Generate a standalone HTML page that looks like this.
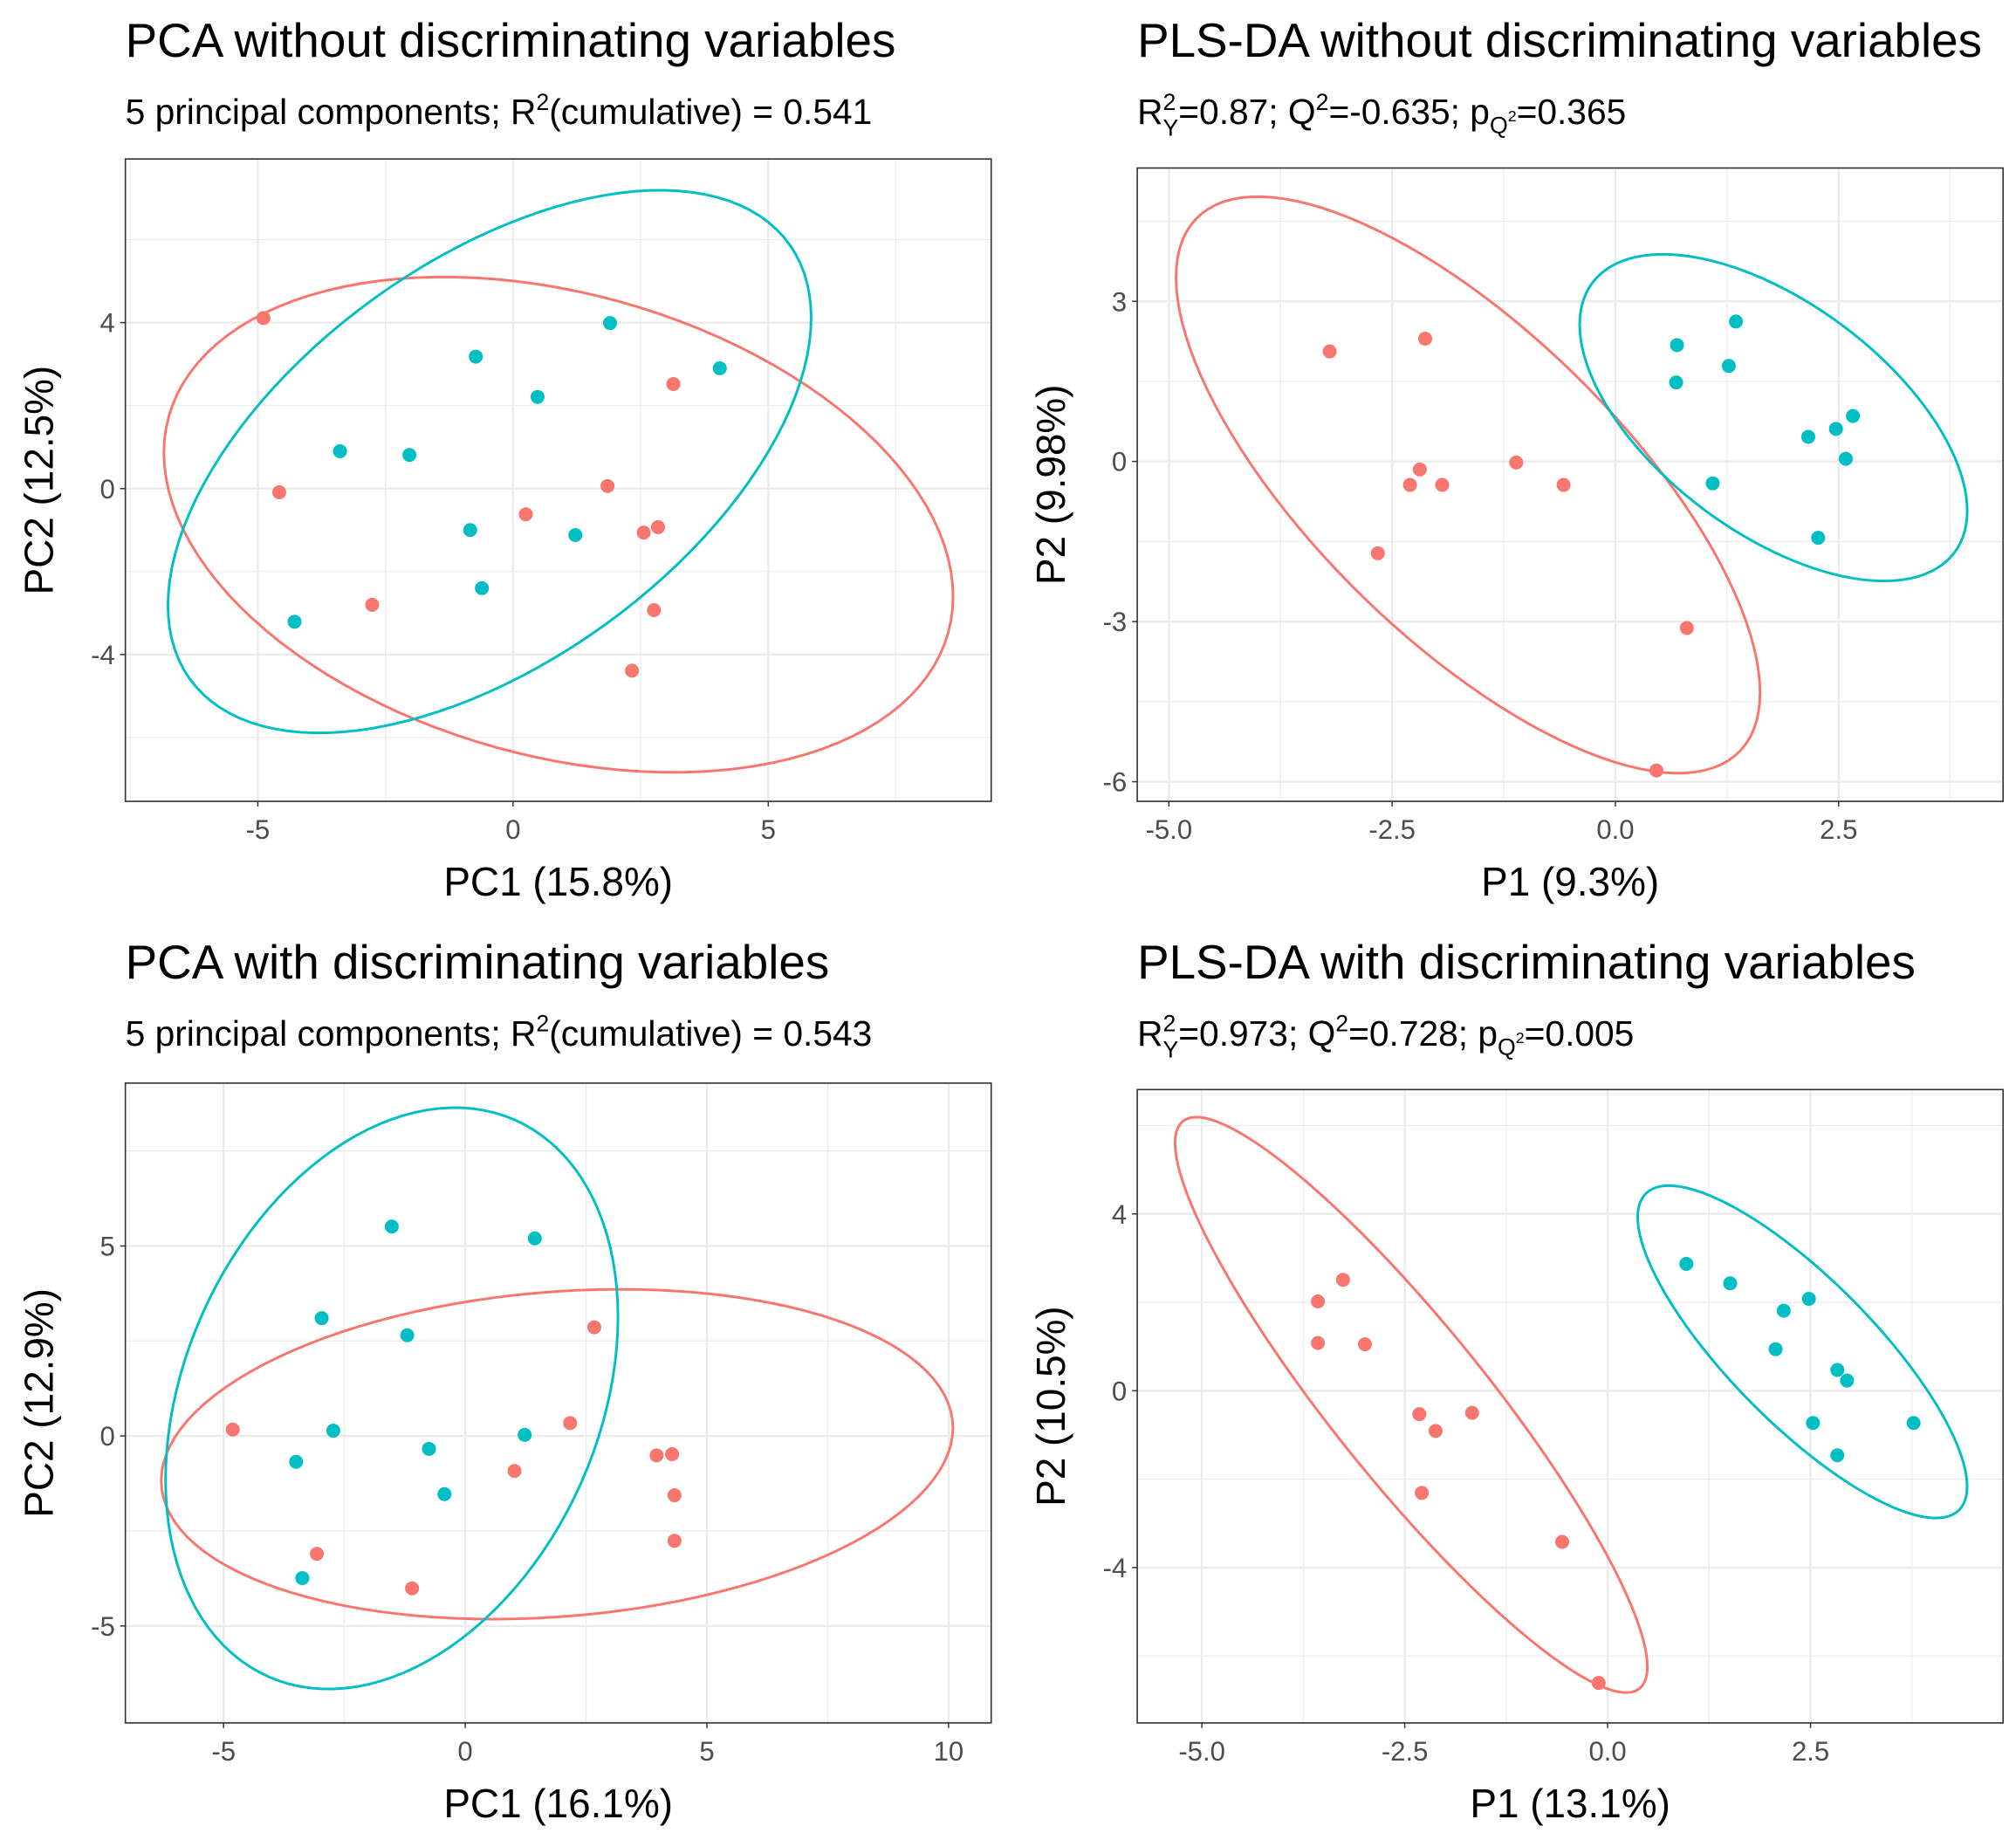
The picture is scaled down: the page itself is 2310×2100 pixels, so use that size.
<!DOCTYPE html>
<html><head><meta charset="utf-8">
<style>
html,body{margin:0;padding:0;background:#fff;}
svg{display:block;font-family:"Liberation Sans",Arial,sans-serif;}
</style></head>
<body>
<svg id="fig" width="2310" height="2100" viewBox="0 0 1560 1418.18" xmlns="http://www.w3.org/2000/svg">
<rect x="0" y="0" width="1560" height="1418.18" fill="#fff"/>
</svg>
<script>
// ---- Panel A: PCA without discriminating variables ----
const aRedX = [-4.89,-4.58,-2.76,0.25,1.85,2.56,2.84,2.76,3.14,2.33];
const aRedY = [4.11,-0.09,-2.80,-0.62,0.06,-1.06,-0.93,-2.93,2.52,-4.39];
const aTealX = [1.90,-0.73,0.48,4.05,-3.39,-2.03,-0.84,1.22,-0.61,-4.28];
const aTealY = [3.99,3.18,2.21,2.90,0.90,0.81,-1.00,-1.12,-2.40,-3.21];
const aRedEllipse = [0.89,-0.87,7.73,5.97,-0.29];
const aTealEllipse = [-0.46,0.65,6.30,6.54,0.53];
const aXTicks = [-5,0,5];
const aYTicks = [-4,0,4];
// ---- Panel B: PLS-DA without ----
const bRedX = [-3.20,-2.13,-2.30,-2.19,-1.94,-1.11,-0.58,-2.66,0.80,0.46];
const bRedY = [2.06,2.30,-0.44,-0.15,-0.44,-0.02,-0.44,-1.72,-3.12,-5.79];
const bTealX = [1.35,0.69,0.68,1.27,2.16,2.47,2.66,2.58,1.09,2.27];
const bTealY = [2.62,2.18,1.48,1.79,0.46,0.61,0.85,0.05,-0.41,-1.43];
const bRedEllipse = [-1.65,-0.44,3.27,5.40,-0.72];
const bTealEllipse = [1.77,0.82,2.17,3.06,-0.57];
const bXTicks = [-5,-2.5,0,2.5];
const bYTicks = [-6,-3,0,3];
// ---- Panel C: PCA with ----
const cRedX = [-4.81,-3.07,-1.10,1.02,2.17,2.67,3.96,4.28,4.33,4.33];
const cRedY = [0.17,-3.10,-4.01,-0.92,0.34,2.86,-0.51,-0.48,-1.56,-2.76];
const cTealX = [-1.52,1.44,-2.97,-1.20,-3.50,-2.73,-0.75,-0.43,1.23,-3.37];
const cTealY = [5.51,5.20,3.10,2.65,-0.68,0.14,-0.34,-1.53,0.03,-3.74];
const cRedEllipse = [1.90,-0.48,8.19,4.34,0.16];
const cTealEllipse = [-1.52,0.99,4.68,7.65,0.28];
const cXTicks = [-5,0,5,10];
const cYTicks = [-5,0,5];
// ---- Panel D: PLS-DA with ----
const dRedX = [-3.57,-3.26,-3.57,-2.99,-2.32,-2.12,-1.67,-2.29,-0.56,-0.11];
const dRedY = [2.02,2.51,1.08,1.05,-0.53,-0.91,-0.50,-2.31,-3.42,-6.61];
const dTealX = [0.97,1.51,2.48,2.17,2.07,2.83,2.95,2.53,3.77,2.83];
const dTealY = [2.87,2.43,2.08,1.81,0.94,0.47,0.23,-0.73,-0.73,-1.46];
const dRedEllipse = [-2.42,-0.32,2.91,6.51,-0.91];
const dTealEllipse = [2.40,0.88,2.03,3.76,-0.81];
const dXTicks = [-5,-2.5,0,2.5];
const dYTicks = [-4,0,4];

const NS = "http://www.w3.org/2000/svg";
const svg = document.getElementById('fig');
const RED = "#F8766D", TEAL = "#00BFC4";
function mk(tag, attrs, parent){ const e=document.createElementNS(NS,tag); for(const k in attrs) e.setAttribute(k,attrs[k]); (parent||svg).appendChild(e); return e; }

function panel(p){
  const g = mk('g',{});
  
  
  const sx = v => p.x0px + (v - p.xRef)*p.xs;
  const sy = v => p.y0px - (v - p.yRef)*p.ys;
  const L=p.box[0], T=p.box[1], R=p.box[2], B=p.box[3];
  const xmin=(L-sx(0))/p.xs, xmax=(R-sx(0))/p.xs, ymax=(sy(0)-T)/p.ys, ymin=(sy(0)-B)/p.ys;
  const xstep=p.xt[1]-p.xt[0], ystep=p.yt[1]-p.yt[0];
  for(let v=p.xt[0]-xstep*2.5; v<=xmax; v+=xstep){ if(v>=xmin){ const l=mk('line',{x1:sx(v),x2:sx(v),y1:T,y2:B,stroke:'#EBEBEB','stroke-width':0.8},g);   } }
  for(let v=p.yt[0]-ystep*2.5; v<=ymax; v+=ystep){ if(v>=ymin){ const l=mk('line',{x1:L,x2:R,y1:sy(v),y2:sy(v),stroke:'#EBEBEB','stroke-width':0.8},g);   } }
  p.xt.forEach(v=>{ const l=mk('line',{x1:sx(v),x2:sx(v),y1:T,y2:B,stroke:'#EBEBEB','stroke-width':1.6},g);  
    mk('line',{x1:sx(v),x2:sx(v),y1:B,y2:B+4,stroke:'#333','stroke-width':1},g);
    const t=mk('text',{x:sx(v),y:B+29,'text-anchor':'middle','font-size':21,fill:'#4D4D4D'},g); t.textContent=p.xfmt(v);   });
  p.yt.forEach(v=>{ const l=mk('line',{x1:L,x2:R,y1:sy(v),y2:sy(v),stroke:'#EBEBEB','stroke-width':1.6},g);  
    mk('line',{x1:L-4,x2:L,y1:sy(v),y2:sy(v),stroke:'#333','stroke-width':1},g);
    const t=mk('text',{x:L-8,y:sy(v)+7.5,'text-anchor':'end','font-size':21,fill:'#4D4D4D'},g); t.textContent=String(v);   });
  const cid='clip'+p.id;
  const cp=mk('clipPath',{id:cid},g); mk('rect',{x:L,y:T,width:R-L,height:B-T},cp);
  const pg=mk('g',{'clip-path':'url(#'+cid+')'},g);
  [[p.re,RED,'red-group-ellipse'],[p.te,TEAL,'teal-group-ellipse']].forEach(([e,c,n])=>{
    const d=Math.acos(Math.max(-1,Math.min(1,e[4]))); let s='';
    for(let i=0;i<=120;i++){ const t=i/120*2*Math.PI; const X=e[0]+e[2]*Math.cos(t), Y=e[1]+e[3]*Math.cos(t+d); s+=(i?'L':'M')+sx(X).toFixed(2)+','+sy(Y).toFixed(2); }
    const path=mk('path',{d:s+'Z',fill:'none',stroke:c,'stroke-width':2},pg);
    
    
  });
  [[p.rx,p.ry,RED,'red-point'],[p.tx,p.ty,TEAL,'teal-point']].forEach(([xs,ys,c,n])=>{
    xs.forEach((x,i)=>{ const pt=mk('circle',{cx:sx(x),cy:sy(ys[i]),r:5.4,fill:c},pg);
      
       });
  });
  const frame=mk('rect',{x:L,y:T,width:R-L,height:B-T,fill:'none',stroke:'#333','stroke-width':1.1},g);
   
  const tt=mk('text',{x:L,y:p.titleY,'font-size':37,fill:'#000'},g); tt.textContent=p.title;
   
  const st=mk('text',{x:L,y:p.titleY+52,'font-size':27.5,fill:'#000'},g); st.innerHTML=p.sub;
   
  const xl=mk('text',{x:(L+R)/2,y:B+73,'text-anchor':'middle','font-size':31,fill:'#000'},g); xl.textContent=p.xlab;
   
  const yx=L-56, yy=(T+B)/2;
  const yl=mk('text',{x:yx,y:yy,'text-anchor':'middle','font-size':31,fill:'#000',transform:'rotate(-90 '+yx+' '+yy+')'},g); yl.textContent=p.ylab;
   
}
const intf=v=>String(v), dec=v=>v.toFixed(1);
const pcaSub = v => '5 principal components; R<tspan font-size="18" dy="-11">2</tspan><tspan dy="11">(cumulative) = '+v+'</tspan>';
const plsSub = (a,b,c) => 'R<tspan font-size="18" dy="-11">2</tspan><tspan font-size="18" dx="-10" dy="20">Y</tspan><tspan dy="-9">='+a+'; Q</tspan><tspan font-size="18" dy="-11">2</tspan><tspan dy="11">='+b+'; p</tspan><tspan font-size="18" dy="7">Q</tspan><tspan font-size="12" dy="-9">2</tspan><tspan dy="2">='+c+'</tspan>';

panel({id:'a',name:'pca-without-panel',box:[97,123,767,620],x0px:397,xRef:0,xs:39.5,y0px:378,yRef:0,ys:32.1,xt:aXTicks,yt:aYTicks,xfmt:intf,
  rx:aRedX,ry:aRedY,tx:aTealX,ty:aTealY,re:aRedEllipse,te:aTealEllipse,titleY:44,title:'PCA without discriminating variables',sub:pcaSub('0.541'),xlab:'PC1 (15.8%)',ylab:'PC2 (12.5%)'});
panel({id:'b',name:'plsda-without-panel',box:[880,130,1550,620],x0px:1250,xRef:0,xs:69.1,y0px:357,yRef:0,ys:41.3,xt:bXTicks,yt:bYTicks,xfmt:dec,
  rx:bRedX,ry:bRedY,tx:bTealX,ty:bTealY,re:bRedEllipse,te:bTealEllipse,titleY:44,title:'PLS-DA without discriminating variables',sub:plsSub('0.87','-0.635','0.365'),xlab:'P1 (9.3%)',ylab:'P2 (9.98%)'});
panel({id:'c',name:'pca-with-panel',box:[97,838,767,1333],x0px:360,xRef:0,xs:37.4,y0px:1111,yRef:0,ys:29.4,xt:cXTicks,yt:cYTicks,xfmt:intf,
  rx:cRedX,ry:cRedY,tx:cTealX,ty:cTealY,re:cRedEllipse,te:cTealEllipse,titleY:757,title:'PCA with discriminating variables',sub:pcaSub('0.543'),xlab:'PC1 (16.1%)',ylab:'PC2 (12.9%)'});
panel({id:'d',name:'plsda-with-panel',box:[880,843,1550,1333],x0px:1244,xRef:0,xs:62.8,y0px:1076,yRef:0,ys:34.2,xt:dXTicks,yt:dYTicks,xfmt:dec,
  rx:dRedX,ry:dRedY,tx:dTealX,ty:dTealY,re:dRedEllipse,te:dTealEllipse,titleY:757,title:'PLS-DA with discriminating variables',sub:plsSub('0.973','0.728','0.005'),xlab:'P1 (13.1%)',ylab:'P2 (10.5%)'});
</script>
</body></html>
